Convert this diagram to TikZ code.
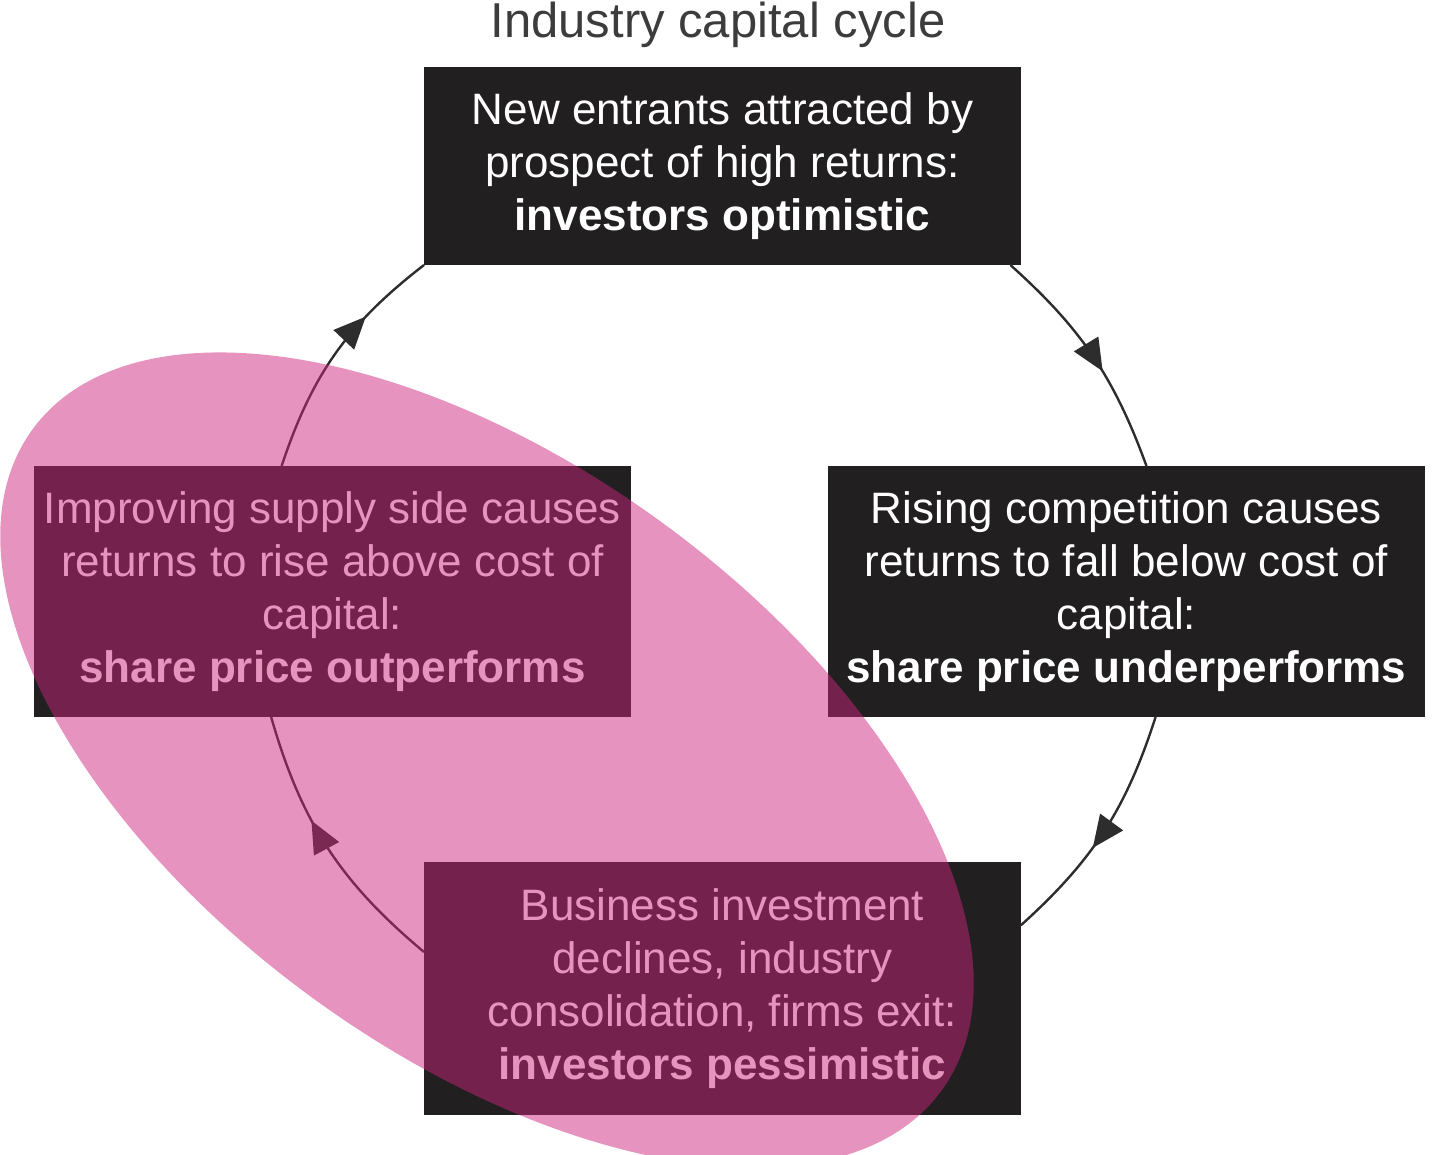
\documentclass[tikz,border=0pt]{standalone}
\usepackage{fontspec}
\setmainfont{Liberation Sans}
\usetikzlibrary{arrows.meta,decorations.markings}
\definecolor{boxgray}{RGB}{33,31,32}
\definecolor{linegray}{RGB}{45,45,45}
\definecolor{titlegray}{RGB}{60,60,60}
\definecolor{blobpink}{RGB}{203,37,124}
\begin{document}
\begin{tikzpicture}[x=1pt,y=1pt,line join=round,line cap=round,
		cbox/.style={fill=boxgray,text=white,align=center,inner sep=0pt,
			minimum width=597pt,minimum height=251pt,font=\fontsize{44}{53}\selectfont},
		cyc/.style={color=linegray,line width=2.4pt,postaction={decorate},
			decoration={markings,mark=at position #1 with {\arrow{Triangle[length=32pt,width=28pt]}}}}]
	\def\ecx{487} \def\ecy{394}
	\useasboundingbox (0,0) rectangle (1456,1154);
	\node[anchor=base,text=titlegray,font=\fontsize{49}{53}\selectfont] (title) at (718,1116) {Industry capital cycle};
	\node[cbox,minimum height=198pt] (tbox) at (722.5,988) {New entrants attracted by\\prospect of high returns:\\\textbf{investors optimistic}};
	\node[cbox] (rbox) at (1126.5,562.5) {Rising competition causes\\returns to fall below cost of\\capital:\\\textbf{share price underperforms}};
	\node[cbox,minimum height=253pt] (bbox) at (722.5,165.5) {Business investment\\declines, industry\\consolidation, firms exit:\\\textbf{investors pessimistic}};
	\node[cbox] (lbox) at (332.5,562.5) {Improving supply side causes\\returns to rise above cost of\\capital:\\\textbf{share price outperforms}};
	% cycle arcs
	\draw[cyc=0.69] (lbox.112.7) to[bend left=17] (tbox.south west);
	\draw[cyc=0.575] (tbox.-19.1) to[bend left=14] (rbox.81.2);
	\draw[cyc=0.58] (rbox.283.7) to[bend left=15] (bbox.12);
	\draw[cyc=0.61] (bbox.173.2) to[bend left=17] (lbox.244.3);
	% highlight
	\fill[blobpink,opacity=0.49,rotate around={-36:(\ecx,\ecy)}] (\ecx,\ecy) ellipse [x radius=562, y radius=295];
\end{tikzpicture}
\end{document}
